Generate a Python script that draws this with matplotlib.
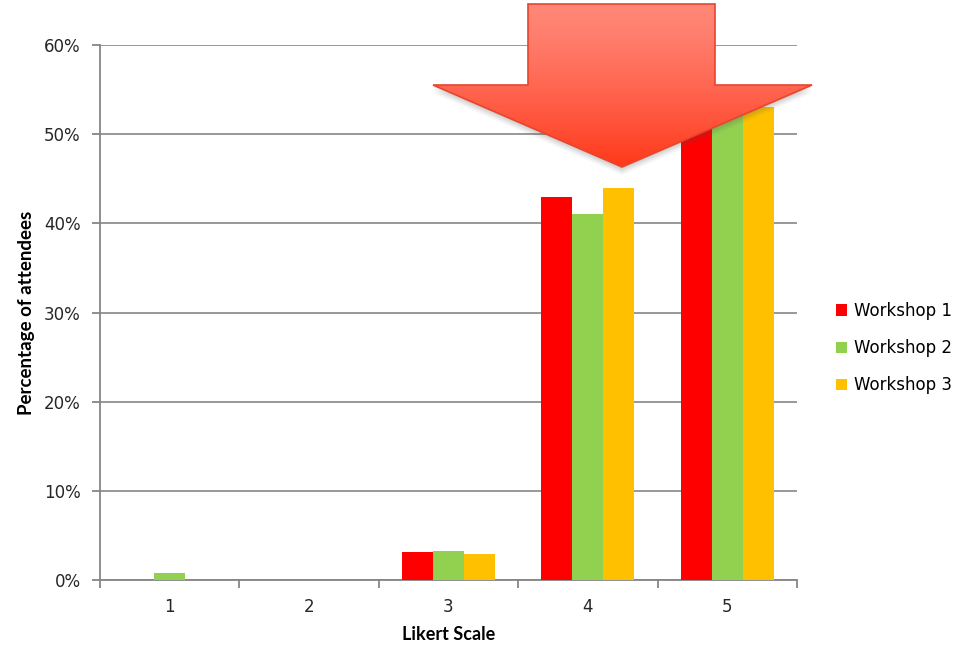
import numpy as np
import matplotlib.pyplot as plt
from matplotlib.patches import Polygon
from matplotlib.ticker import FuncFormatter, MultipleLocator, FixedLocator

# Data
categories = ['1', '2', '3', '4', '5']
series_names = ['Workshop 1', 'Workshop 2', 'Workshop 3']
workshop1 = [0.0, 0.0, 3.1, 43.0, 54.0]
workshop2 = [0.75, 0.0, 3.2, 41.0, 55.0]
workshop3 = [0.0, 0.0, 2.9, 44.0, 53.0]
colors = ['#FF0000', '#92D050', '#FFC000']

plt.rcParams['font.family'] = ['DejaVu Sans']

W, H = 959, 646
fig = plt.figure(figsize=(W / 100, H / 100), dpi=100)
ax = fig.add_axes([100 / W, 1 - 580 / H, 697 / W, 535 / H])

# Bars
x = np.arange(len(categories))
bw = 0.222
for i, (vals, name) in enumerate(zip([workshop1, workshop2, workshop3], series_names)):
    ax.bar(x + (i - 1) * bw, vals, bw, color=colors[i], label=name, zorder=3)

# Axes styling
ax.set_xlim(-0.5, len(categories) - 0.5)
ax.set_ylim(0, 60)
ax.yaxis.set_major_locator(MultipleLocator(10))
ax.yaxis.set_major_formatter(FuncFormatter(lambda v, p: f'{v:.0f}%'))
ax.set_xticks(x)
ax.set_xticklabels(categories)
ax.xaxis.set_minor_locator(FixedLocator(np.arange(-0.5, len(categories), 1.0)))
ax.tick_params(axis='x', which='major', length=0, pad=13, labelsize=12, colors='#262626')
ax.tick_params(axis='x', which='minor', length=6, width=1.3, color='#868686', direction='out')
ax.tick_params(axis='y', length=6, width=1.3, color='#868686', labelsize=12,
               labelcolor='#262626', pad=8)
ax.grid(axis='y', color='#868686', linewidth=1.2, zorder=0)
for s in ['top', 'right']:
    ax.spines[s].set_visible(False)
for s in ['left', 'bottom']:
    ax.spines[s].set_color('#868686')
    ax.spines[s].set_linewidth(1.3)

ax.set_xlabel('Likert Scale', fontsize=13, fontweight='bold', family='Lato', labelpad=7)
ax.set_ylabel('Percentage of attendees', fontsize=13.5, fontweight='bold', family='Lato',
              labelpad=6)

ax.legend(loc='center left', bbox_to_anchor=(821 / W, 1 - 348 / H),
          bbox_transform=fig.transFigure, frameon=False, fontsize=12,
          handlelength=0.65, handleheight=0.65, handletextpad=0.45, labelspacing=1.15)

# Block arrow overlay (pixel coordinates of the figure)
arrow = np.array([[528, 4], [715, 4], [715, 85], [812, 85], [622, 167],
                  [433, 85], [528, 85]], dtype=float)

def to_fig(pts):
    return np.column_stack([pts[:, 0] / W, 1 - pts[:, 1] / H])

# soft shadow
for k, a in zip([8, 6, 4, 2], [0.05, 0.07, 0.09, 0.1]):
    sh = arrow + np.array([0, k])
    fig.patches.append(Polygon(to_fig(sh), closed=True, transform=fig.transFigure,
                               facecolor='#555555', edgecolor='none', alpha=a, zorder=9))

grad = np.linspace(0, 1, 256).reshape(-1, 1)
top = np.array([1.0, 0.53, 0.47])
bot = np.array([1.0, 0.22, 0.10])
img = top + (bot - top) * grad[..., None] ** 1.3
img = img.reshape(256, 1, 3)
gax = fig.add_axes([0, 0, 1, 1], zorder=11)
gax.set_xlim(0, 1)
gax.set_ylim(0, 1)
gax.axis('off')
gax.patch.set_alpha(0)
im = gax.imshow(img, extent=[433 / W, 812 / W, 1 - 167 / H, 1 - 4 / H],
                aspect='auto', transform=gax.transData, zorder=11)
clip = Polygon(to_fig(arrow), closed=True, transform=fig.transFigure)
im.set_clip_path(clip)
gax.add_patch(Polygon(to_fig(arrow), closed=True, transform=fig.transFigure,
                      facecolor='none', edgecolor='#E8452C', linewidth=1.2, zorder=12))

fig.savefig('out.png', dpi=100)
